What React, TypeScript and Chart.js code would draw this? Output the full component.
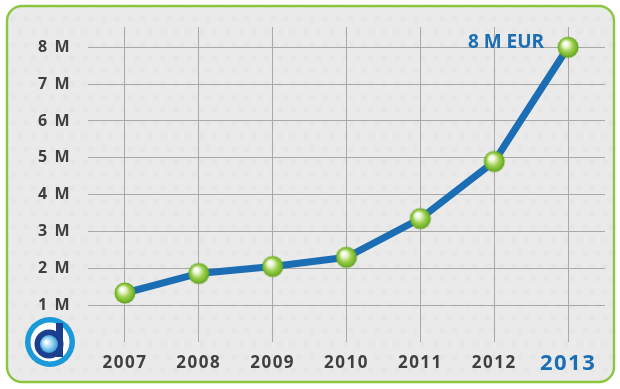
import React, { useEffect, useRef } from "react";
import { Chart, registerables } from "chart.js";

Chart.register(...registerables);

const years = ["2007", "2008", "2009", "2010", "2011", "2012", "2013"];
const revenueMillions = [1.33, 1.86, 2.05, 2.3, 3.35, 4.9, 8.0];
const yTickValues = [1, 2, 3, 4, 5, 6, 7, 8];
const unitSuffix = "M";
const highlightSuffix = "M EUR";

const BLUE = "#1b6db4";
const TEXT = "#3f3f3f";
const FONT = "'Open Sans', 'Liberation Sans', sans-serif";

function makeSphere(): HTMLCanvasElement {
  const c = document.createElement("canvas");
  const s = 24;
  c.width = s;
  c.height = s;
  const g = c.getContext("2d")!;
  const r = 10.5;
  const cx = s / 2;
  const cy = s / 2;
  const grad = g.createRadialGradient(cx - 3, cy - 4, 1, cx, cy, r);
  grad.addColorStop(0, "#ffffff");
  grad.addColorStop(0.25, "#e4f3c8");
  grad.addColorStop(0.55, "#9fd152");
  grad.addColorStop(0.85, "#76b72b");
  grad.addColorStop(1, "#5e9c1f");
  g.beginPath();
  g.arc(cx, cy, r, 0, Math.PI * 2);
  g.fillStyle = grad;
  g.fill();
  return c;
}

function cardPath(ctx: CanvasRenderingContext2D) {
  const x = 7, y = 6, w = 607, h = 376, r = 15;
  ctx.beginPath();
  ctx.moveTo(x + r, y);
  ctx.arcTo(x + w, y, x + w, y + h, r);
  ctx.arcTo(x + w, y + h, x, y + h, r);
  ctx.arcTo(x, y + h, x, y, r);
  ctx.arcTo(x, y, x + w, y, r);
  ctx.closePath();
}

const cardPlugin = {
  id: "card",
  beforeDraw(chart: any) {
    const ctx: CanvasRenderingContext2D = chart.ctx;
    ctx.save();
    cardPath(ctx);
    ctx.fillStyle = "#eaeaea";
    ctx.fill();
    // faint dot texture
    ctx.save();
    ctx.clip();
    ctx.fillStyle = "rgba(0,0,0,0.014)";
    for (let yy = 6; yy < 390; yy += 13) {
      const row = Math.round((yy - 6) / 13);
      for (let xx = 7 + (row % 2 ? 6 : 0); xx < 620; xx += 13) {
        ctx.beginPath();
        ctx.arc(xx, yy, 3, 0, Math.PI * 2);
        ctx.fill();
      }
    }
    ctx.restore();
    cardPath(ctx);
    ctx.lineWidth = 2.4;
    ctx.strokeStyle = "#8cc63f";
    ctx.stroke();

    // logo
    const lx = 50, ly = 342;
    ctx.beginPath();
    ctx.arc(lx, ly, 25, 0, Math.PI * 2);
    ctx.fillStyle = "#1a9ad8";
    ctx.fill();
    ctx.beginPath();
    ctx.arc(lx, ly, 19.5, 0, Math.PI * 2);
    ctx.fillStyle = "#ffffff";
    ctx.fill();
    ctx.beginPath();
    ctx.arc(lx - 1, ly + 2, 14.5, 0, Math.PI * 2);
    ctx.fillStyle = "#1b3f8e";
    ctx.fill();
    ctx.fillRect(lx + 6, ly - 19, 7, 34);
    const sg = ctx.createRadialGradient(lx - 4, ly, 1, lx - 1, ly + 2, 10);
    sg.addColorStop(0, "#ffffff");
    sg.addColorStop(0.5, "#8fd0f2");
    sg.addColorStop(1, "#2a8fd0");
    ctx.beginPath();
    ctx.arc(lx - 1, ly + 2, 9, 0, Math.PI * 2);
    ctx.fillStyle = sg;
    ctx.fill();
    ctx.restore();
    (ctx as any).letterSpacing = "1.5px";
  },
  afterDatasetsDraw(chart: any) {
    const ctx: CanvasRenderingContext2D = chart.ctx;
    const meta = chart.getDatasetMeta(0);
    const last = meta.data[meta.data.length - 1];
    const v = revenueMillions[revenueMillions.length - 1];
    ctx.save();
    (ctx as any).letterSpacing = "0px";
    ctx.font = `bold 19px ${FONT}`;
    ctx.fillStyle = BLUE;
    ctx.textAlign = "right";
    ctx.textBaseline = "alphabetic";
    ctx.fillText(`${Math.round(v)} ${highlightSuffix}`, last.x - 24, last.y + 0.5);
    ctx.restore();
  },
};

export default function App() {
  const ref = useRef<HTMLCanvasElement>(null);
  useEffect(() => {
    document.body.style.margin = "0";
    const sphere = makeSphere();
    const chart = new Chart(ref.current!, {
      type: "line",
      data: {
        labels: years,
        datasets: [
          {
            data: revenueMillions,
            borderColor: BLUE,
            borderWidth: 7,
            pointStyle: sphere as any,
            pointRadius: 11,
            tension: 0,
          },
        ],
      },
      options: {
        animation: false,
        responsive: false,
        events: [],
        layout: { autoPadding: false, padding: { top: 27, right: 15, left: 0, bottom: 0 } },
        plugins: { legend: { display: false }, tooltip: { enabled: false } },
        scales: {
          x: {
            offset: true,
            border: { display: false },
            grid: { offset: false, drawTicks: false, color: "#a9a9a9", lineWidth: 1 },
            afterFit: (s: any) => {
              s.height = 47;
              s.paddingLeft = 0;
              s.paddingRight = 0;
            },
            ticks: {
              padding: 11,
              maxRotation: 0,
              color: (c: any) => (c.index === years.length - 1 ? BLUE : TEXT),
              font: (c: any) =>
                c.index === years.length - 1
                  ? { family: FONT, size: 22, weight: "bold", lineHeight: 1.0 }
                  : { family: FONT, size: 17, weight: "bold" },
            },
          },
          y: {
            min: 0,
            max: 8.55,
            border: { display: false },
            afterBuildTicks: (s: any) => {
              s.ticks = yTickValues.map((v) => ({ value: v }));
            },
            afterFit: (s: any) => {
              s.width = 88;
            },
            grid: { drawTicks: false, color: "#a9a9a9", lineWidth: 1 },
            ticks: {
              padding: 17,
              color: TEXT,
              font: { family: FONT, size: 16, weight: "bold" },
              callback: (v: any) => `${v} ${unitSuffix}`,
            },
          },
        },
      },
      plugins: [cardPlugin],
    });
    return () => chart.destroy();
  }, []);
  return (
    <div style={{ position: "absolute", left: 0, top: 0, width: 620, height: 389, background: "#ffffff" }}>
      <canvas ref={ref} width={620} height={389} style={{ display: "block" }} />
    </div>
  );
}
